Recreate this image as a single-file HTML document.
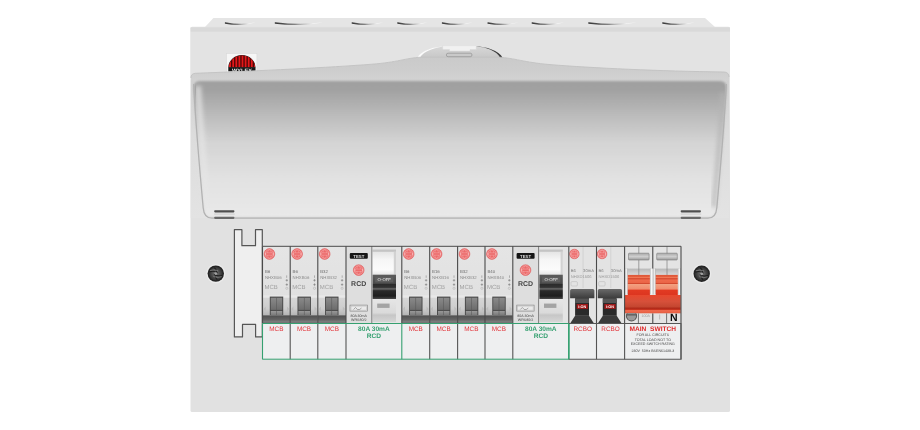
<!DOCTYPE html><html><head><meta charset="utf-8"><style>
html,body{margin:0;padding:0;background:#fff;}
svg{display:block;font-family:"Liberation Sans",sans-serif;will-change:transform;text-rendering:geometricPrecision;}
.t4{font-size:4.3px;}
.t4b{font-size:4.3px;font-weight:bold;}
.t35{font-size:3.6px;}
.t42{font-size:4.2px;}
.t35b{font-size:3.8px;font-weight:bold;}
.t8{font-size:6.0px;}
.t9{font-size:7px;font-weight:bold;}
.lbl{font-size:6.4px;}
.lblb{font-size:6.6px;font-weight:bold;}
.lblM{font-size:6.6px;font-weight:bold;}
.tN{font-size:10.5px;font-weight:bold;}
</style></head><body>
<svg width="920" height="430" viewBox="0 0 920 430">

<defs>
<linearGradient id="gKn" x1="0" x2="1"><stop offset="0" stop-color="#303030"/><stop offset="0.35" stop-color="#707070"/><stop offset="0.6" stop-color="#b8b8b8"/><stop offset="0.8" stop-color="#f4f4f4"/><stop offset="1" stop-color="#ffffff"/></linearGradient>
<linearGradient id="gLid" x1="0" y1="0" x2="0" y2="1">
 <stop offset="0" stop-color="#a0a0a0"/><stop offset="0.06" stop-color="#a1a1a1"/><stop offset="0.25" stop-color="#bbbbbb"/><stop offset="0.45" stop-color="#d4d4d4"/><stop offset="0.7" stop-color="#e1e1e1"/><stop offset="1" stop-color="#e9e9e9"/></linearGradient>
<linearGradient id="gRim" gradientUnits="userSpaceOnUse" x1="0" y1="57" x2="0" y2="81"><stop offset="0" stop-color="#cacaca"/><stop offset="0.5" stop-color="#cdcdcd"/><stop offset="1" stop-color="#d3d3d3"/></linearGradient>
<linearGradient id="gBump" x1="0" y1="0" x2="0" y2="1"><stop offset="0" stop-color="#d8d8d8"/><stop offset="1" stop-color="#c6c6c6"/></linearGradient>
<linearGradient id="gWall" x1="0" y1="0" x2="0" y2="1"><stop offset="0" stop-color="#d0d0d0"/><stop offset="0.4" stop-color="#dcdcdc"/><stop offset="1" stop-color="#e3e3e3"/></linearGradient>
<linearGradient id="gMcb" x1="0" y1="0" x2="0" y2="1"><stop offset="0" stop-color="#e5e5e5"/><stop offset="1" stop-color="#dedede"/></linearGradient>
<linearGradient id="gTogBg" x1="0" y1="0" x2="0" y2="1"><stop offset="0" stop-color="#d6d6d6"/><stop offset="0.6" stop-color="#cdcdcd"/><stop offset="1" stop-color="#b4b4b4"/></linearGradient>
<linearGradient id="gTog" x1="0" y1="0" x2="0" y2="1"><stop offset="0" stop-color="#8a8a8a"/><stop offset="1" stop-color="#6c6c6c"/></linearGradient>
<linearGradient id="gTogLow" x1="0" y1="0" x2="0" y2="1"><stop offset="0" stop-color="#9a9a9a"/><stop offset="1" stop-color="#7a7a7a"/></linearGradient>
<linearGradient id="gBand" x1="0" y1="0" x2="0" y2="1"><stop offset="0" stop-color="#4e4e4e"/><stop offset="0.5" stop-color="#626262"/><stop offset="0.75" stop-color="#7a7a7a"/><stop offset="1" stop-color="#6e6e6e"/></linearGradient>
<linearGradient id="gWin" x1="0" y1="0" x2="0" y2="1"><stop offset="0" stop-color="#e0e0e0"/><stop offset="0.4" stop-color="#f6f6f6"/><stop offset="0.8" stop-color="#fbfbfb"/><stop offset="1" stop-color="#e6e6e6"/></linearGradient>
<linearGradient id="gRcdTog" x1="0" y1="0" x2="0" y2="1"><stop offset="0" stop-color="#5c5c5c"/><stop offset="0.36" stop-color="#4a4a4a"/><stop offset="0.38" stop-color="#2a2a2a"/><stop offset="0.52" stop-color="#333"/><stop offset="0.58" stop-color="#6a6a6a"/><stop offset="0.66" stop-color="#2a2a2a"/><stop offset="0.88" stop-color="#1e1e1e"/><stop offset="1" stop-color="#4a4a4a"/></linearGradient>
<linearGradient id="gRcdLow" x1="0" y1="0" x2="0" y2="1"><stop offset="0" stop-color="#e6e6e6"/><stop offset="0.6" stop-color="#dadada"/><stop offset="0.7" stop-color="#c6c6c6"/><stop offset="1" stop-color="#d6d6d6"/></linearGradient>
<linearGradient id="gRh" x1="0" y1="0" x2="0" y2="1"><stop offset="0" stop-color="#6a6a6a"/><stop offset="1" stop-color="#3c3c3c"/></linearGradient>
<linearGradient id="gPost" x1="0" x2="1"><stop offset="0" stop-color="#c4c4c4"/><stop offset="0.5" stop-color="#fafafa"/><stop offset="1" stop-color="#b4b4b4"/></linearGradient>
<linearGradient id="gRedTop" x1="0" y1="0" x2="0" y2="1">
 <stop offset="0" stop-color="#dc5638"/><stop offset="0.1" stop-color="#e6603f"/><stop offset="0.13" stop-color="#f27a58"/><stop offset="0.18" stop-color="#d64a30"/><stop offset="0.25" stop-color="#ee6a4c"/><stop offset="0.38" stop-color="#ea6446"/><stop offset="0.42" stop-color="#d24a30"/><stop offset="0.46" stop-color="#f3a080"/><stop offset="0.68" stop-color="#f08c6e"/><stop offset="0.75" stop-color="#e23a22"/><stop offset="1" stop-color="#dc3520"/></linearGradient>
<linearGradient id="gRedBar" x1="0" y1="0" x2="0" y2="1">
 <stop offset="0" stop-color="#e8482e"/><stop offset="0.35" stop-color="#d6503a"/><stop offset="0.65" stop-color="#c44630"/><stop offset="0.72" stop-color="#ae2818"/><stop offset="0.8" stop-color="#c83420"/><stop offset="0.85" stop-color="#f06c50"/><stop offset="1" stop-color="#e45c40"/></linearGradient>
<linearGradient id="gMsBand" x1="0" y1="0" x2="0" y2="1"><stop offset="0" stop-color="#b8b8b8"/><stop offset="1" stop-color="#dadada"/></linearGradient>
<linearGradient id="gMsWin" x1="0" y1="0" x2="0" y2="1"><stop offset="0" stop-color="#a8a8a8"/><stop offset="0.5" stop-color="#cfcfcf"/><stop offset="1" stop-color="#9a9a9a"/></linearGradient>
<linearGradient id="gPost2" x1="0" x2="1"><stop offset="0" stop-color="#b0b0b0"/><stop offset="0.25" stop-color="#fafafa"/><stop offset="0.45" stop-color="#dcdcdc"/><stop offset="0.55" stop-color="#b8b8b8"/><stop offset="0.75" stop-color="#f6f6f6"/><stop offset="1" stop-color="#b0b0b0"/></linearGradient>
<filter id="fb03" x="-10%" y="-50%" width="120%" height="200%"><feGaussianBlur stdDeviation="0.3"/></filter>
<radialGradient id="gScrew" cx="0.5" cy="0.5" r="0.5"><stop offset="0" stop-color="#7a7a7a"/><stop offset="0.6" stop-color="#4a4a4a"/><stop offset="1" stop-color="#2e2e2e"/></radialGradient>
</defs>

<rect width="920" height="430" fill="#fff"/>
<path d="M204.8,27.2 L213.4,18.1 L705,18.1 L715.3,27.2 Z" fill="#e5e5e5"/>
<path d="M225.2,22.2 Q240.3,25.0 255.4,22.6 Q240.3,26.9 225.2,23.8 Q224.1,23.0 225.2,22.2Z" fill="url(#gKn)" filter="url(#fb03)"/>
<path d="M275.1,22.2 Q299.0,25.0 322.9,22.6 Q299.0,26.9 275.1,23.8 Q274.0,23.0 275.1,22.2Z" fill="url(#gKn)" filter="url(#fb03)"/>
<path d="M352.0,22.2 Q367.5,25.0 383.1,22.6 Q367.5,26.9 352.0,23.8 Q350.9,23.0 352.0,22.2Z" fill="url(#gKn)" filter="url(#fb03)"/>
<path d="M397.6,22.2 Q412.4,25.0 427.1,22.6 Q412.4,26.9 397.6,23.8 Q396.5,23.0 397.6,22.2Z" fill="url(#gKn)" filter="url(#fb03)"/>
<path d="M442.2,22.2 Q457.3,25.0 472.4,22.6 Q457.3,26.9 442.2,23.8 Q441.1,23.0 442.2,22.2Z" fill="url(#gKn)" filter="url(#fb03)"/>
<path d="M487.9,22.2 Q503.0,25.0 518.2,22.6 Q503.0,26.9 487.9,23.8 Q486.8,23.0 487.9,22.2Z" fill="url(#gKn)" filter="url(#fb03)"/>
<path d="M532.0,22.2 Q548.0,25.0 563.9,22.6 Q548.0,26.9 532.0,23.8 Q530.9,23.0 532.0,22.2Z" fill="url(#gKn)" filter="url(#fb03)"/>
<path d="M588.6,22.2 Q612.5,25.0 636.4,22.6 Q612.5,26.9 588.6,23.8 Q587.5,23.0 588.6,22.2Z" fill="url(#gKn)" filter="url(#fb03)"/>
<path d="M662.6,22.2 Q678.5,25.0 694.4,22.6 Q678.5,26.9 662.6,23.8 Q661.5,23.0 662.6,22.2Z" fill="url(#gKn)" filter="url(#fb03)"/>
<rect x="190.5" y="26.8" width="539.5" height="385.2" rx="1.6" fill="#e1e1e1"/>
<rect x="190.5" y="27.4" width="539.5" height="4.4" fill="#d9d9d9"/>
<rect x="190.5" y="31.8" width="539.5" height="45" fill="#e3e3e3"/>
<rect x="226.5" y="53.5" width="30.4" height="22" fill="#f6f6f6" stroke="#d6d6d6" stroke-width="0.5"/>
<clipPath id="cpLogo"><path d="M228.8,67.3 A13.1,11.9 0 0 1 255,67.3 Z"/></clipPath>
<path d="M228.3,67.6 A13.6,12.5 0 0 1 255.5,67.6 Z" fill="#1a1a1a"/>
<g clip-path="url(#cpLogo)"><rect x="228" y="54" width="28" height="14" fill="#e3181a"/>
<rect x="231.00" y="54" width="1.3" height="14" fill="#4a0606"/>
<rect x="234.10" y="54" width="1.3" height="14" fill="#4a0606"/>
<rect x="237.20" y="54" width="1.3" height="14" fill="#4a0606"/>
<rect x="240.30" y="54" width="1.3" height="14" fill="#4a0606"/>
<rect x="243.40" y="54" width="1.3" height="14" fill="#4a0606"/>
<rect x="246.50" y="54" width="1.3" height="14" fill="#4a0606"/>
<rect x="249.60" y="54" width="1.3" height="14" fill="#4a0606"/>
<rect x="252.70" y="54" width="1.3" height="14" fill="#4a0606"/>
</g>
<rect x="228.3" y="67.2" width="27.2" height="4.2" fill="#151515"/>
<text x="241.9" y="71.6" font-size="4.6" font-weight="bold" fill="#f0f0f0" text-anchor="middle" textLength="20" lengthAdjust="spacingAndGlyphs">WYLEX</text>
<path d="M417.2,58.5 C421,50.5 434,46.6 445,46.3 L475,46.3 C486,46.6 499,50.5 502.8,58.5 Z" fill="url(#gBump)"/>
<path d="M417.2,58 C421,50.5 434,46.6 445,46.3 C436,47.3 424,50.5 419.8,58 Z" fill="#fbfbfb"/>
<path d="M502.8,58 C499,50.5 486,46.6 475,46.3 C485,47.0 497,50.5 500.2,58 Z" fill="#3c3c3c"/>
<path d="M190.9,217.9 L190.9,78 Q190.9,73.4 195.6,73.3 C260,70.8 330,67.5 372,64.2 C398,62.2 405,58.2 421,57.2 L499,57.2 C515,58.2 523,62.2 550,64.6 C592,68 660,71.2 724,72 Q729,72.2 729,77 L729,217.9 Z" fill="url(#gRim)"/>
<path d="M190.9,78 Q190.9,73.4 195.6,73.3 C260,70.8 330,67.5 372,64.2 C398,62.2 405,58.2 421,57.2 L499,57.2 C515,58.2 523,62.2 550,64.6 C592,68 660,71.2 724,72 Q729,72.2 729,77" fill="none" stroke="#c2c2c2" stroke-width="0.9" filter="url(#fb05)"/>
<filter id="fb1" x="-5%" y="-5%" width="110%" height="110%"><feGaussianBlur stdDeviation="1.1"/></filter>
<filter id="fb05" x="-5%" y="-5%" width="110%" height="110%"><feGaussianBlur stdDeviation="0.6"/></filter>
<path d="M190.9,80 L193.5,80 Q196,130 203.7,209 Q204.5,217.6 211,217.6 L211,217.9 L190.9,217.9 Z" fill="url(#gWall)"/>
<path d="M729,80 L726.5,80 Q724,130 716.3,209 Q715.5,217.6 709,217.6 L709,217.9 L729,217.9 Z" fill="url(#gWall)"/>
<path d="M193.8,87 Q193.8,81 200,81 L720,81 Q726.3,81 726.3,87 Q724,130 716.3,209 Q715.5,217.2 709,217.2 L211,217.2 Q204.5,217.2 203.7,209 Q196,130 193.8,87 Z" fill="url(#gLid)" filter="url(#fb1)"/>
<filter id="fb2" x="-20%" y="-5%" width="140%" height="110%"><feGaussianBlur stdDeviation="2.2"/></filter>
<path d="M198,86 Q200.5,130 207.5,205" fill="none" stroke="#e6e6e6" stroke-width="6" opacity="0.75" filter="url(#fb2)"/>
<path d="M722.8,92 Q720.5,135 713.6,207" fill="none" stroke="#b4b4b4" stroke-width="4" opacity="0.85" filter="url(#fb2)"/>
<path d="M193.6,84 Q196,130 203.2,208 Q204,218.2 212,218.2 L708,218.2 Q716,218.2 716.8,208 Q724,130 726.4,84" fill="none" stroke="#b2b2b2" stroke-width="1.3" filter="url(#fb05)"/>
<path d="M442.6,46.2 q0,-0.6 0.8,-0.6 h32.1 q0.8,0 0.8,0.6 v2.8 q0,0.6 -0.8,0.6 h-5.4 v1.4 h-20.6 v-1.4 h-6.1 q-0.8,0 -0.8,-0.6z" fill="#f1f1f1" stroke="#d0d0d0" stroke-width="0.3"/>
<rect x="446.4" y="53.2" width="25.6" height="3.5" rx="1.7" fill="#c9c9c9" stroke="#8a8a8a" stroke-width="0.6"/>
<rect x="214.2" y="210.3" width="20.2" height="2.1" rx="0.8" fill="#4e4e4e"/>
<rect x="214.2" y="213.4" width="20.5" height="1.4" fill="#d4d4d4"/>
<rect x="214.2" y="216.8" width="20.2" height="2.1" rx="0.8" fill="#686868"/>
<rect x="680.7" y="210.3" width="20.2" height="2.1" rx="0.8" fill="#4e4e4e"/>
<rect x="680.7" y="213.4" width="20.5" height="1.4" fill="#d4d4d4"/>
<rect x="680.7" y="216.8" width="20.2" height="2.1" rx="0.8" fill="#686868"/>
<path d="M234.4,229.7 h7.5 v16 h13.6 v-16 h6.8 v107.2 h-6.7 v-12.5 h-13.1 v12.5 h-8.1z" fill="#efefef" stroke="#555" stroke-width="1.2" stroke-linejoin="round"/>
<circle cx="215.8" cy="273.6" r="9.6" fill="#ebebeb"/>
<circle cx="215.8" cy="273.6" r="8.2" fill="#242424"/>
<circle cx="215.8" cy="273.6" r="6.9" fill="url(#gScrew)"/>
<g transform="translate(215.8,273.6)" fill="none" stroke-linecap="round"><path d="M-6,-1.8 Q-2,-3.2 1.5,-0.8 M6,1.8 Q2,3.2 -1.5,0.8 M-1.2,-5.8 Q1.5,-3 0.6,-1 M1.2,5.8 Q-1.5,3 -0.6,1" stroke="#1e1e1e" stroke-width="1.1"/><path d="M-5.5,-3.2 Q-2,-4.6 2,-3 M5.5,3.2 Q2,4.6 -2,3" stroke="#8a8a8a" stroke-width="0.7"/><circle r="1.4" fill="#a0a0a0"/></g>
<circle cx="701.7" cy="273.8" r="9.6" fill="#ebebeb"/>
<circle cx="701.7" cy="273.8" r="8.2" fill="#242424"/>
<circle cx="701.7" cy="273.8" r="6.9" fill="url(#gScrew)"/>
<g transform="translate(701.7,273.8)" fill="none" stroke-linecap="round"><path d="M-6,-1.8 Q-2,-3.2 1.5,-0.8 M6,1.8 Q2,3.2 -1.5,0.8 M-1.2,-5.8 Q1.5,-3 0.6,-1 M1.2,5.8 Q-1.5,3 -0.6,1" stroke="#1e1e1e" stroke-width="1.1"/><path d="M-5.5,-3.2 Q-2,-4.6 2,-3 M5.5,3.2 Q2,4.6 -2,3" stroke="#8a8a8a" stroke-width="0.7"/><circle r="1.4" fill="#a0a0a0"/></g>
<rect x="262.5" y="323.5" width="418.5" height="35.69999999999999" fill="#eeeff0"/>
<rect x="262.50" y="246.3" width="27.70" height="77.19999999999999" fill="url(#gMcb)"/><circle cx="269.40" cy="254.00" r="5.40" fill="#ec6a6a" stroke="#dc5050" stroke-width="0.5"/><circle cx="269.40" cy="254.00" r="4.37" fill="none" stroke="#f7bcbc" stroke-width="0.5"/><ellipse cx="269.40" cy="254.00" rx="1.96" ry="4.37" fill="none" stroke="#f5b0b0" stroke-width="0.4"/><rect x="265.03" y="252.70" width="8.74" height="2.6" fill="#f6b4b4"/><rect x="266.04" y="253.30" width="6.72" height="1.4" fill="#ea5a5a"/><text x="264.90" y="273.3" class="t4" fill="#6a6a6a">B6</text><text x="264.90" y="278.8" class="t4" fill="#8a8a8a">NHXB06</text><text x="264.50" y="289.2" class="t8" fill="#a0a0a0">MCB</text><rect x="286.50" y="275.4" width="0.6" height="2.4" fill="#8a8a8a"/><path d="M285.60,280.3h2.4M286.80,279.1v2.4M285.60,284.6h2.4M286.80,283.4v2.4" stroke="#777" stroke-width="0.6"/><circle cx="286.80" cy="288.3" r="1.1" fill="none" stroke="#aaa" stroke-width="0.5"/><rect x="262.50" y="295.3" width="27.70" height="2.5" fill="#e8e8e8"/><rect x="262.50" y="297.8" width="27.70" height="17.5" fill="url(#gTogBg)"/><rect x="269.80" y="296.6" width="13.4" height="18.5" fill="#464646"/><rect x="270.70" y="297.7" width="11.6" height="12.2" fill="url(#gTog)"/><rect x="270.70" y="310.9" width="11.6" height="4.2" fill="url(#gTogLow)"/><rect x="276.25" y="297.7" width="0.5" height="17.4" fill="#555"/><path d="M263.50,309 l2.2,-2.5 v5z M289.20,309 l-2.2,-2.5 v5z" fill="#bdbdbd"/><rect x="262.50" y="315.3" width="27.70" height="8.20" fill="url(#gBand)"/><text x="276.35" y="331" class="lbl" fill="#e2343a" text-anchor="middle">MCB</text>
<rect x="290.20" y="246.3" width="27.60" height="77.19999999999999" fill="url(#gMcb)"/><circle cx="297.10" cy="254.00" r="5.40" fill="#ec6a6a" stroke="#dc5050" stroke-width="0.5"/><circle cx="297.10" cy="254.00" r="4.37" fill="none" stroke="#f7bcbc" stroke-width="0.5"/><ellipse cx="297.10" cy="254.00" rx="1.96" ry="4.37" fill="none" stroke="#f5b0b0" stroke-width="0.4"/><rect x="292.73" y="252.70" width="8.74" height="2.6" fill="#f6b4b4"/><rect x="293.74" y="253.30" width="6.72" height="1.4" fill="#ea5a5a"/><text x="292.60" y="273.3" class="t4" fill="#6a6a6a">B6</text><text x="292.60" y="278.8" class="t4" fill="#8a8a8a">NHXB06</text><text x="292.20" y="289.2" class="t8" fill="#a0a0a0">MCB</text><rect x="314.20" y="275.4" width="0.6" height="2.4" fill="#8a8a8a"/><path d="M313.30,280.3h2.4M314.50,279.1v2.4M313.30,284.6h2.4M314.50,283.4v2.4" stroke="#777" stroke-width="0.6"/><circle cx="314.50" cy="288.3" r="1.1" fill="none" stroke="#aaa" stroke-width="0.5"/><rect x="290.20" y="295.3" width="27.60" height="2.5" fill="#e8e8e8"/><rect x="290.20" y="297.8" width="27.60" height="17.5" fill="url(#gTogBg)"/><rect x="297.50" y="296.6" width="13.4" height="18.5" fill="#464646"/><rect x="298.40" y="297.7" width="11.6" height="12.2" fill="url(#gTog)"/><rect x="298.40" y="310.9" width="11.6" height="4.2" fill="url(#gTogLow)"/><rect x="303.95" y="297.7" width="0.5" height="17.4" fill="#555"/><path d="M291.20,309 l2.2,-2.5 v5z M316.80,309 l-2.2,-2.5 v5z" fill="#bdbdbd"/><rect x="290.20" y="315.3" width="27.60" height="8.20" fill="url(#gBand)"/><text x="304.00" y="331" class="lbl" fill="#e2343a" text-anchor="middle">MCB</text>
<rect x="317.80" y="246.3" width="28.20" height="77.19999999999999" fill="url(#gMcb)"/><circle cx="324.70" cy="254.00" r="5.40" fill="#ec6a6a" stroke="#dc5050" stroke-width="0.5"/><circle cx="324.70" cy="254.00" r="4.37" fill="none" stroke="#f7bcbc" stroke-width="0.5"/><ellipse cx="324.70" cy="254.00" rx="1.96" ry="4.37" fill="none" stroke="#f5b0b0" stroke-width="0.4"/><rect x="320.33" y="252.70" width="8.74" height="2.6" fill="#f6b4b4"/><rect x="321.34" y="253.30" width="6.72" height="1.4" fill="#ea5a5a"/><text x="320.20" y="273.3" class="t4" fill="#6a6a6a">B32</text><text x="320.20" y="278.8" class="t4" fill="#8a8a8a">NHXB32</text><text x="319.80" y="289.2" class="t8" fill="#a0a0a0">MCB</text><rect x="341.80" y="275.4" width="0.6" height="2.4" fill="#8a8a8a"/><path d="M340.90,280.3h2.4M342.10,279.1v2.4M340.90,284.6h2.4M342.10,283.4v2.4" stroke="#777" stroke-width="0.6"/><circle cx="342.10" cy="288.3" r="1.1" fill="none" stroke="#aaa" stroke-width="0.5"/><rect x="317.80" y="295.3" width="28.20" height="2.5" fill="#e8e8e8"/><rect x="317.80" y="297.8" width="28.20" height="17.5" fill="url(#gTogBg)"/><rect x="325.10" y="296.6" width="13.4" height="18.5" fill="#464646"/><rect x="326.00" y="297.7" width="11.6" height="12.2" fill="url(#gTog)"/><rect x="326.00" y="310.9" width="11.6" height="4.2" fill="url(#gTogLow)"/><rect x="331.55" y="297.7" width="0.5" height="17.4" fill="#555"/><path d="M318.80,309 l2.2,-2.5 v5z M345.00,309 l-2.2,-2.5 v5z" fill="#bdbdbd"/><rect x="317.80" y="315.3" width="28.20" height="8.20" fill="url(#gBand)"/><text x="331.90" y="331" class="lbl" fill="#e2343a" text-anchor="middle">MCB</text>
<rect x="346.00" y="246.3" width="55.80" height="77.19999999999999" fill="#dedede"/><rect x="349.80" y="253" width="18" height="5.8" rx="1" fill="#161616"/><text x="358.80" y="257.5" class="t4b" fill="#ddd" text-anchor="middle">TEST</text><circle cx="358.70" cy="270.10" r="5.40" fill="#ec6a6a" stroke="#dc5050" stroke-width="0.5"/><circle cx="358.70" cy="270.10" r="4.37" fill="none" stroke="#f7bcbc" stroke-width="0.5"/><ellipse cx="358.70" cy="270.10" rx="1.96" ry="4.37" fill="none" stroke="#f5b0b0" stroke-width="0.4"/><rect x="354.33" y="268.80" width="8.74" height="2.6" fill="#f6b4b4"/><rect x="355.34" y="269.40" width="6.72" height="1.4" fill="#ea5a5a"/><text x="358.70" y="285.9" class="t9" fill="#484848" text-anchor="middle">RCD</text><rect x="350.00" y="305.1" width="17.3" height="6" fill="#eaeaea" stroke="#7a7a7a" stroke-width="0.6"/><rect x="351.00" y="306.1" width="15.3" height="4" fill="none" stroke="#b0b0b0" stroke-width="0.4"/><path d="M353.50,309.5 l2,-2 l2,2 l2,0 l2,-1.5" fill="none" stroke="#666" stroke-width="0.5"/><text x="358.70" y="317.1" class="t35" fill="#444" text-anchor="middle">80A 30mA</text><text x="358.70" y="321.0" class="t35" fill="#444" text-anchor="middle">WRS80/2</text><rect x="371.80" y="246.3" width="30.00" height="77.19999999999999" fill="#e4e4e4"/><rect x="372.60" y="249.6" width="23.4" height="25.2" fill="url(#gWin)"/><rect x="372.60" y="249.6" width="23.4" height="2.2" fill="#c4c4c4"/><rect x="393.80" y="251.8" width="2.2" height="23" fill="#d2d2d2"/><rect x="372.60" y="274.7" width="23.4" height="24.3" fill="url(#gRcdTog)"/><rect x="375.20" y="276.8" width="18.20" height="5.6" fill="#5e5e5e"/><text x="384.30" y="281.3" class="t4" fill="#f0f0f0" text-anchor="middle">O-OFF</text><rect x="372.60" y="299" width="23.4" height="23" fill="url(#gRcdLow)"/><rect x="377.20" y="303.6" width="12.4" height="4.3" fill="#a4a4a4"/><line x1="371.80" y1="246.3" x2="371.80" y2="323.5" stroke="#666" stroke-width="0.8"/><text x="373.90" y="331.2" class="lblb" fill="#35a070" text-anchor="middle">80A 30mA</text><text x="373.90" y="338" class="lblb" fill="#35a070" text-anchor="middle">RCD</text>
<rect x="401.80" y="246.3" width="27.90" height="77.19999999999999" fill="url(#gMcb)"/><circle cx="408.70" cy="254.00" r="5.40" fill="#ec6a6a" stroke="#dc5050" stroke-width="0.5"/><circle cx="408.70" cy="254.00" r="4.37" fill="none" stroke="#f7bcbc" stroke-width="0.5"/><ellipse cx="408.70" cy="254.00" rx="1.96" ry="4.37" fill="none" stroke="#f5b0b0" stroke-width="0.4"/><rect x="404.33" y="252.70" width="8.74" height="2.6" fill="#f6b4b4"/><rect x="405.34" y="253.30" width="6.72" height="1.4" fill="#ea5a5a"/><text x="404.20" y="273.3" class="t4" fill="#6a6a6a">B6</text><text x="404.20" y="278.8" class="t4" fill="#8a8a8a">NHXB06</text><text x="403.80" y="289.2" class="t8" fill="#a0a0a0">MCB</text><rect x="425.80" y="275.4" width="0.6" height="2.4" fill="#8a8a8a"/><path d="M424.90,280.3h2.4M426.10,279.1v2.4M424.90,284.6h2.4M426.10,283.4v2.4" stroke="#777" stroke-width="0.6"/><circle cx="426.10" cy="288.3" r="1.1" fill="none" stroke="#aaa" stroke-width="0.5"/><rect x="401.80" y="295.3" width="27.90" height="2.5" fill="#e8e8e8"/><rect x="401.80" y="297.8" width="27.90" height="17.5" fill="url(#gTogBg)"/><rect x="409.10" y="296.6" width="13.4" height="18.5" fill="#464646"/><rect x="410.00" y="297.7" width="11.6" height="12.2" fill="url(#gTog)"/><rect x="410.00" y="310.9" width="11.6" height="4.2" fill="url(#gTogLow)"/><rect x="415.55" y="297.7" width="0.5" height="17.4" fill="#555"/><path d="M402.80,309 l2.2,-2.5 v5z M428.70,309 l-2.2,-2.5 v5z" fill="#bdbdbd"/><rect x="401.80" y="315.3" width="27.90" height="8.20" fill="url(#gBand)"/><text x="415.75" y="331" class="lbl" fill="#e2343a" text-anchor="middle">MCB</text>
<rect x="429.70" y="246.3" width="27.90" height="77.19999999999999" fill="url(#gMcb)"/><circle cx="436.60" cy="254.00" r="5.40" fill="#ec6a6a" stroke="#dc5050" stroke-width="0.5"/><circle cx="436.60" cy="254.00" r="4.37" fill="none" stroke="#f7bcbc" stroke-width="0.5"/><ellipse cx="436.60" cy="254.00" rx="1.96" ry="4.37" fill="none" stroke="#f5b0b0" stroke-width="0.4"/><rect x="432.23" y="252.70" width="8.74" height="2.6" fill="#f6b4b4"/><rect x="433.24" y="253.30" width="6.72" height="1.4" fill="#ea5a5a"/><text x="432.10" y="273.3" class="t4" fill="#6a6a6a">B16</text><text x="432.10" y="278.8" class="t4" fill="#8a8a8a">NHXB16</text><text x="431.70" y="289.2" class="t8" fill="#a0a0a0">MCB</text><rect x="453.70" y="275.4" width="0.6" height="2.4" fill="#8a8a8a"/><path d="M452.80,280.3h2.4M454.00,279.1v2.4M452.80,284.6h2.4M454.00,283.4v2.4" stroke="#777" stroke-width="0.6"/><circle cx="454.00" cy="288.3" r="1.1" fill="none" stroke="#aaa" stroke-width="0.5"/><rect x="429.70" y="295.3" width="27.90" height="2.5" fill="#e8e8e8"/><rect x="429.70" y="297.8" width="27.90" height="17.5" fill="url(#gTogBg)"/><rect x="437.00" y="296.6" width="13.4" height="18.5" fill="#464646"/><rect x="437.90" y="297.7" width="11.6" height="12.2" fill="url(#gTog)"/><rect x="437.90" y="310.9" width="11.6" height="4.2" fill="url(#gTogLow)"/><rect x="443.45" y="297.7" width="0.5" height="17.4" fill="#555"/><path d="M430.70,309 l2.2,-2.5 v5z M456.60,309 l-2.2,-2.5 v5z" fill="#bdbdbd"/><rect x="429.70" y="315.3" width="27.90" height="8.20" fill="url(#gBand)"/><text x="443.65" y="331" class="lbl" fill="#e2343a" text-anchor="middle">MCB</text>
<rect x="457.60" y="246.3" width="27.40" height="77.19999999999999" fill="url(#gMcb)"/><circle cx="464.50" cy="254.00" r="5.40" fill="#ec6a6a" stroke="#dc5050" stroke-width="0.5"/><circle cx="464.50" cy="254.00" r="4.37" fill="none" stroke="#f7bcbc" stroke-width="0.5"/><ellipse cx="464.50" cy="254.00" rx="1.96" ry="4.37" fill="none" stroke="#f5b0b0" stroke-width="0.4"/><rect x="460.13" y="252.70" width="8.74" height="2.6" fill="#f6b4b4"/><rect x="461.14" y="253.30" width="6.72" height="1.4" fill="#ea5a5a"/><text x="460.00" y="273.3" class="t4" fill="#6a6a6a">B32</text><text x="460.00" y="278.8" class="t4" fill="#8a8a8a">NHXB32</text><text x="459.60" y="289.2" class="t8" fill="#a0a0a0">MCB</text><rect x="481.60" y="275.4" width="0.6" height="2.4" fill="#8a8a8a"/><path d="M480.70,280.3h2.4M481.90,279.1v2.4M480.70,284.6h2.4M481.90,283.4v2.4" stroke="#777" stroke-width="0.6"/><circle cx="481.90" cy="288.3" r="1.1" fill="none" stroke="#aaa" stroke-width="0.5"/><rect x="457.60" y="295.3" width="27.40" height="2.5" fill="#e8e8e8"/><rect x="457.60" y="297.8" width="27.40" height="17.5" fill="url(#gTogBg)"/><rect x="464.90" y="296.6" width="13.4" height="18.5" fill="#464646"/><rect x="465.80" y="297.7" width="11.6" height="12.2" fill="url(#gTog)"/><rect x="465.80" y="310.9" width="11.6" height="4.2" fill="url(#gTogLow)"/><rect x="471.35" y="297.7" width="0.5" height="17.4" fill="#555"/><path d="M458.60,309 l2.2,-2.5 v5z M484.00,309 l-2.2,-2.5 v5z" fill="#bdbdbd"/><rect x="457.60" y="315.3" width="27.40" height="8.20" fill="url(#gBand)"/><text x="471.30" y="331" class="lbl" fill="#e2343a" text-anchor="middle">MCB</text>
<rect x="485.00" y="246.3" width="27.80" height="77.19999999999999" fill="url(#gMcb)"/><circle cx="491.90" cy="254.00" r="5.40" fill="#ec6a6a" stroke="#dc5050" stroke-width="0.5"/><circle cx="491.90" cy="254.00" r="4.37" fill="none" stroke="#f7bcbc" stroke-width="0.5"/><ellipse cx="491.90" cy="254.00" rx="1.96" ry="4.37" fill="none" stroke="#f5b0b0" stroke-width="0.4"/><rect x="487.53" y="252.70" width="8.74" height="2.6" fill="#f6b4b4"/><rect x="488.54" y="253.30" width="6.72" height="1.4" fill="#ea5a5a"/><text x="487.40" y="273.3" class="t4" fill="#6a6a6a">B40</text><text x="487.40" y="278.8" class="t4" fill="#8a8a8a">NHXB40</text><text x="487.00" y="289.2" class="t8" fill="#a0a0a0">MCB</text><rect x="509.00" y="275.4" width="0.6" height="2.4" fill="#8a8a8a"/><path d="M508.10,280.3h2.4M509.30,279.1v2.4M508.10,284.6h2.4M509.30,283.4v2.4" stroke="#777" stroke-width="0.6"/><circle cx="509.30" cy="288.3" r="1.1" fill="none" stroke="#aaa" stroke-width="0.5"/><rect x="485.00" y="295.3" width="27.80" height="2.5" fill="#e8e8e8"/><rect x="485.00" y="297.8" width="27.80" height="17.5" fill="url(#gTogBg)"/><rect x="492.30" y="296.6" width="13.4" height="18.5" fill="#464646"/><rect x="493.20" y="297.7" width="11.6" height="12.2" fill="url(#gTog)"/><rect x="493.20" y="310.9" width="11.6" height="4.2" fill="url(#gTogLow)"/><rect x="498.75" y="297.7" width="0.5" height="17.4" fill="#555"/><path d="M486.00,309 l2.2,-2.5 v5z M511.80,309 l-2.2,-2.5 v5z" fill="#bdbdbd"/><rect x="485.00" y="315.3" width="27.80" height="8.20" fill="url(#gBand)"/><text x="498.90" y="331" class="lbl" fill="#e2343a" text-anchor="middle">MCB</text>
<rect x="512.80" y="246.3" width="56.00" height="77.19999999999999" fill="#dedede"/><rect x="516.60" y="253" width="18" height="5.8" rx="1" fill="#161616"/><text x="525.60" y="257.5" class="t4b" fill="#ddd" text-anchor="middle">TEST</text><circle cx="525.50" cy="270.10" r="5.40" fill="#ec6a6a" stroke="#dc5050" stroke-width="0.5"/><circle cx="525.50" cy="270.10" r="4.37" fill="none" stroke="#f7bcbc" stroke-width="0.5"/><ellipse cx="525.50" cy="270.10" rx="1.96" ry="4.37" fill="none" stroke="#f5b0b0" stroke-width="0.4"/><rect x="521.13" y="268.80" width="8.74" height="2.6" fill="#f6b4b4"/><rect x="522.14" y="269.40" width="6.72" height="1.4" fill="#ea5a5a"/><text x="525.50" y="285.9" class="t9" fill="#484848" text-anchor="middle">RCD</text><rect x="516.80" y="305.1" width="17.3" height="6" fill="#eaeaea" stroke="#7a7a7a" stroke-width="0.6"/><rect x="517.80" y="306.1" width="15.3" height="4" fill="none" stroke="#b0b0b0" stroke-width="0.4"/><path d="M520.30,309.5 l2,-2 l2,2 l2,0 l2,-1.5" fill="none" stroke="#666" stroke-width="0.5"/><text x="525.50" y="317.1" class="t35" fill="#444" text-anchor="middle">80A 30mA</text><text x="525.50" y="321.0" class="t35" fill="#444" text-anchor="middle">WRS80/2</text><rect x="538.60" y="246.3" width="30.20" height="77.19999999999999" fill="#e4e4e4"/><rect x="539.40" y="249.6" width="23.4" height="25.2" fill="url(#gWin)"/><rect x="539.40" y="249.6" width="23.4" height="2.2" fill="#c4c4c4"/><rect x="560.60" y="251.8" width="2.2" height="23" fill="#d2d2d2"/><rect x="539.40" y="274.7" width="23.4" height="24.3" fill="url(#gRcdTog)"/><rect x="542.00" y="276.8" width="18.20" height="5.6" fill="#5e5e5e"/><text x="551.10" y="281.3" class="t4" fill="#f0f0f0" text-anchor="middle">O-OFF</text><rect x="539.40" y="299" width="23.4" height="23" fill="url(#gRcdLow)"/><rect x="544.00" y="303.6" width="12.4" height="4.3" fill="#a4a4a4"/><line x1="538.60" y1="246.3" x2="538.60" y2="323.5" stroke="#666" stroke-width="0.8"/><text x="540.80" y="331.2" class="lblb" fill="#35a070" text-anchor="middle">80A 30mA</text><text x="540.80" y="338" class="lblb" fill="#35a070" text-anchor="middle">RCD</text>
<rect x="568.80" y="246.3" width="27.70" height="77.19999999999999" fill="#e3e3e3"/><line x1="583.10" y1="246.3" x2="583.10" y2="288" stroke="#c6c6c6" stroke-width="0.6"/><circle cx="574.40" cy="254.00" r="4.80" fill="#ec6a6a" stroke="#dc5050" stroke-width="0.5"/><circle cx="574.40" cy="254.00" r="3.90" fill="none" stroke="#f7bcbc" stroke-width="0.5"/><ellipse cx="574.40" cy="254.00" rx="1.75" ry="3.90" fill="none" stroke="#f5b0b0" stroke-width="0.4"/><rect x="570.50" y="252.70" width="7.80" height="2.6" fill="#f6b4b4"/><rect x="571.40" y="253.30" width="6.00" height="1.4" fill="#ea5a5a"/><text x="570.70" y="272.2" class="t42" fill="#808080">B6</text><text x="583.10" y="272.2" class="t42" fill="#808080">30mA</text><text x="570.70" y="278.3" class="t42" fill="#9a9a9a" textLength="21" lengthAdjust="spacingAndGlyphs">NHXD1506</text><rect x="571.00" y="281.6" width="6.4" height="4.4" rx="1" fill="none" stroke="#b4b4b4" stroke-width="0.5"/><path d="M570.10,290.5 q0,-1.6 1.6,-1.6 h21.1 q1.6,0 1.6,1.6 v7.7 h-24.3z" fill="url(#gRh)"/><rect x="575.10" y="298.2" width="13.9" height="17.6" fill="#2a2a2a"/><rect x="575.10" y="299" width="13.9" height="4" fill="#555"/><rect x="576.70" y="304" width="11.2" height="4.9" fill="#a01818"/><text x="582.30" y="307.9" class="t35b" fill="#fff" text-anchor="middle">I-ON</text><path d="M575.10,315.8 h13.9 l5,7.7 h-23.9z" fill="#3a3a3a"/><text x="582.65" y="331" class="lbl" fill="#e2343a" text-anchor="middle">RCBO</text>
<rect x="596.50" y="246.3" width="28.10" height="77.19999999999999" fill="#e3e3e3"/><line x1="610.80" y1="246.3" x2="610.80" y2="288" stroke="#c6c6c6" stroke-width="0.6"/><circle cx="602.10" cy="254.00" r="4.80" fill="#ec6a6a" stroke="#dc5050" stroke-width="0.5"/><circle cx="602.10" cy="254.00" r="3.90" fill="none" stroke="#f7bcbc" stroke-width="0.5"/><ellipse cx="602.10" cy="254.00" rx="1.75" ry="3.90" fill="none" stroke="#f5b0b0" stroke-width="0.4"/><rect x="598.20" y="252.70" width="7.80" height="2.6" fill="#f6b4b4"/><rect x="599.10" y="253.30" width="6.00" height="1.4" fill="#ea5a5a"/><text x="598.40" y="272.2" class="t42" fill="#808080">B6</text><text x="610.80" y="272.2" class="t42" fill="#808080">30mA</text><text x="598.40" y="278.3" class="t42" fill="#9a9a9a" textLength="21" lengthAdjust="spacingAndGlyphs">NHXD1506</text><rect x="598.70" y="281.6" width="6.4" height="4.4" rx="1" fill="none" stroke="#b4b4b4" stroke-width="0.5"/><path d="M597.80,290.5 q0,-1.6 1.6,-1.6 h21.1 q1.6,0 1.6,1.6 v7.7 h-24.3z" fill="url(#gRh)"/><rect x="602.80" y="298.2" width="13.9" height="17.6" fill="#2a2a2a"/><rect x="602.80" y="299" width="13.9" height="4" fill="#555"/><rect x="604.40" y="304" width="11.2" height="4.9" fill="#a01818"/><text x="610.00" y="307.9" class="t35b" fill="#fff" text-anchor="middle">I-ON</text><path d="M602.80,315.8 h13.9 l5,7.7 h-23.9z" fill="#3a3a3a"/><text x="610.55" y="331" class="lbl" fill="#e2343a" text-anchor="middle">RCBO</text>
<rect x="624.60" y="246.3" width="56.40" height="77.19999999999999" fill="#e4e4e4"/><rect x="624.60" y="268.6" width="56.40" height="6.5" fill="url(#gMsBand)"/><line x1="638.80" y1="246.3" x2="638.80" y2="275" stroke="#8a8a8a" stroke-width="0.8"/><rect x="628.50" y="253.2" width="20.6" height="6.8" rx="0.8" fill="url(#gMsWin)" stroke="#7a7a7a" stroke-width="0.6"/><line x1="667.00" y1="246.3" x2="667.00" y2="275" stroke="#8a8a8a" stroke-width="0.8"/><rect x="656.70" y="253.2" width="20.6" height="6.8" rx="0.8" fill="url(#gMsWin)" stroke="#7a7a7a" stroke-width="0.6"/><line x1="652.80" y1="246.3" x2="652.80" y2="269" stroke="#3a3a3a" stroke-width="1"/><line x1="652.80" y1="313.3" x2="652.80" y2="323.5" stroke="#3a3a3a" stroke-width="1"/><path d="M624.60,268.6 h3.2 v25.4 q-1.6,1 -3.2,0z" fill="url(#gPost)"/><path d="M649.90,268.6 h5.8 v25.4 q-2.9,1 -5.8,0z" fill="url(#gPost2)"/><path d="M677.80,268.6 h3.2 v25.4 q-1.6,1 -3.2,0z" fill="url(#gPost)"/><rect x="627.80" y="274.9" width="22.10" height="20.6" fill="url(#gRedTop)"/><rect x="655.70" y="274.9" width="22.10" height="20.6" fill="url(#gRedTop)"/><rect x="624.80" y="295.0" width="56.00" height="18.3" fill="url(#gRedBar)"/><clipPath id="cpMs"><rect x="624.6" y="313.3" width="14" height="10"/></clipPath><g clip-path="url(#cpMs)"><circle cx="631.50" cy="315.9" r="5.6" fill="#555"/><circle cx="631.50" cy="315.9" r="4.6" fill="#9a9a9a"/><rect x="626.60" y="314" width="9.8" height="1.6" fill="#666"/></g><text x="645.60" y="317.4" class="t35" fill="#9a9a9a" text-anchor="middle">100A</text><rect x="659.40" y="314.5" width="0.7" height="5" fill="#aaa"/><text x="673.90" y="321.3" class="tN" fill="#0a0a0a" text-anchor="middle">N</text><line x1="638.40" y1="313.3" x2="638.40" y2="323.5" stroke="#555" stroke-width="0.8"/><line x1="666.60" y1="313.3" x2="666.60" y2="323.5" stroke="#555" stroke-width="0.8"/><text x="652.80" y="330.9" class="lblM" fill="#e02a2a" text-anchor="middle" xml:space="preserve">MAIN  SWITCH</text><text x="652.80" y="336.3" class="t35" fill="#444" text-anchor="middle" xml:space="preserve">FOR ALL CIRCUITS</text><text x="652.80" y="340.6" class="t35" fill="#444" text-anchor="middle" xml:space="preserve">TOTAL LOAD NOT TO</text><text x="652.80" y="345.4" class="t35" fill="#444" text-anchor="middle" xml:space="preserve">EXCEED SWITCH RATING</text><text x="652.80" y="351.7" class="t35" fill="#444" text-anchor="middle" xml:space="preserve">230V  50Hz BSEN61439-3</text>
<line x1="262.50" y1="246.3" x2="262.50" y2="323.5" stroke="#4a4a4a" stroke-width="1.1"/>
<line x1="290.20" y1="246.3" x2="290.20" y2="323.5" stroke="#4a4a4a" stroke-width="1.1"/>
<line x1="317.80" y1="246.3" x2="317.80" y2="323.5" stroke="#4a4a4a" stroke-width="1.1"/>
<line x1="346.00" y1="246.3" x2="346.00" y2="323.5" stroke="#4a4a4a" stroke-width="1.1"/>
<line x1="401.80" y1="246.3" x2="401.80" y2="323.5" stroke="#4a4a4a" stroke-width="1.1"/>
<line x1="429.70" y1="246.3" x2="429.70" y2="323.5" stroke="#4a4a4a" stroke-width="1.1"/>
<line x1="457.60" y1="246.3" x2="457.60" y2="323.5" stroke="#4a4a4a" stroke-width="1.1"/>
<line x1="485.00" y1="246.3" x2="485.00" y2="323.5" stroke="#4a4a4a" stroke-width="1.1"/>
<line x1="512.80" y1="246.3" x2="512.80" y2="323.5" stroke="#4a4a4a" stroke-width="1.1"/>
<line x1="568.80" y1="246.3" x2="568.80" y2="323.5" stroke="#4a4a4a" stroke-width="1.1"/>
<line x1="596.50" y1="246.3" x2="596.50" y2="323.5" stroke="#4a4a4a" stroke-width="1.1"/>
<line x1="624.60" y1="246.3" x2="624.60" y2="323.5" stroke="#4a4a4a" stroke-width="1.1"/>
<line x1="681.00" y1="246.3" x2="681.00" y2="323.5" stroke="#4a4a4a" stroke-width="1.1"/>
<line x1="262.5" y1="246.3" x2="681.0" y2="246.3" stroke="#4a4a4a" stroke-width="1"/>
<line x1="262.50" y1="323.5" x2="262.50" y2="359.2" stroke="#35a070" stroke-width="1.1"/>
<line x1="290.20" y1="323.5" x2="290.20" y2="359.2" stroke="#555" stroke-width="1.1"/>
<line x1="317.80" y1="323.5" x2="317.80" y2="359.2" stroke="#555" stroke-width="1.1"/>
<line x1="346.00" y1="323.5" x2="346.00" y2="359.2" stroke="#555" stroke-width="1.1"/>
<line x1="401.80" y1="323.5" x2="401.80" y2="359.2" stroke="#35a070" stroke-width="1.1"/>
<line x1="429.70" y1="323.5" x2="429.70" y2="359.2" stroke="#555" stroke-width="1.1"/>
<line x1="457.60" y1="323.5" x2="457.60" y2="359.2" stroke="#555" stroke-width="1.1"/>
<line x1="485.00" y1="323.5" x2="485.00" y2="359.2" stroke="#555" stroke-width="1.1"/>
<line x1="512.80" y1="323.5" x2="512.80" y2="359.2" stroke="#555" stroke-width="1.1"/>
<line x1="568.80" y1="323.5" x2="568.80" y2="359.2" stroke="#35a070" stroke-width="1.1"/>
<line x1="596.50" y1="323.5" x2="596.50" y2="359.2" stroke="#555" stroke-width="1.1"/>
<line x1="624.60" y1="323.5" x2="624.60" y2="359.2" stroke="#555" stroke-width="1.1"/>
<line x1="681.00" y1="323.5" x2="681.00" y2="359.2" stroke="#555" stroke-width="1.1"/>
<path d="M262.5,323.5 H568.8 V359.2 H262.5 Z" fill="none" stroke="#35a070" stroke-width="1.0"/>
<path d="M568.8,323.5 H681.0 V359.2 H568.8" fill="none" stroke="#555" stroke-width="1.1"/>
<line x1="568.8" y1="323.5" x2="568.8" y2="359.2" stroke="#35a070" stroke-width="1.1"/>
</svg></body></html>
